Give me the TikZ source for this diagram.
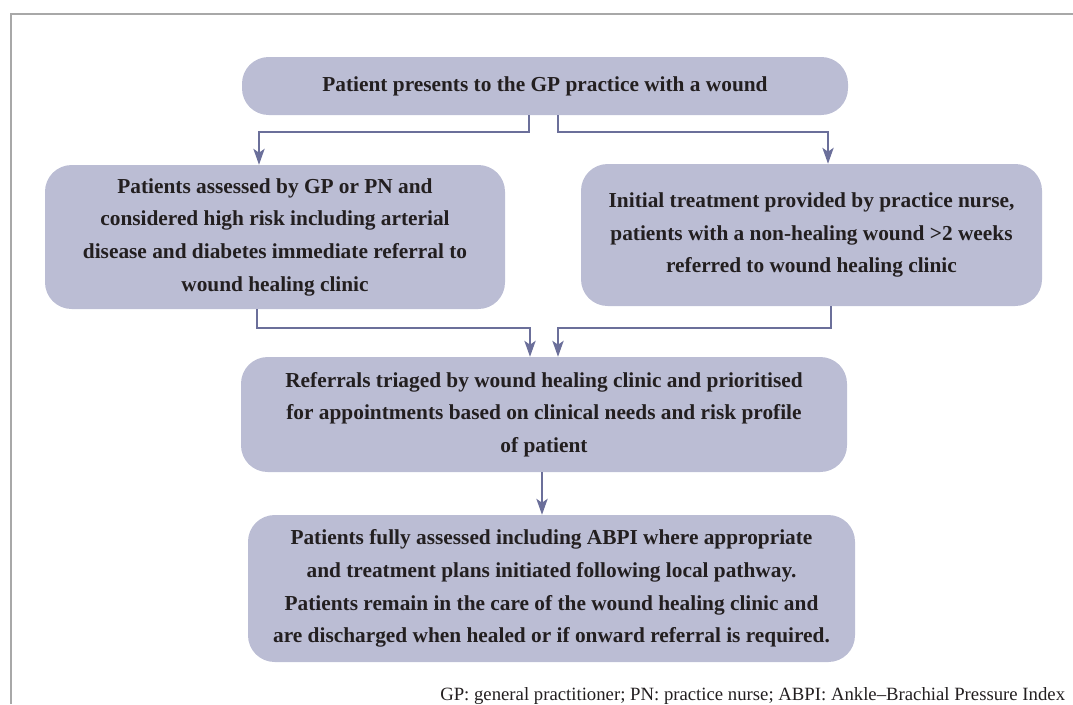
\documentclass[tikz,border=0pt]{standalone}
\usepackage{fontspec}
\setmainfont{Liberation Serif}
\usetikzlibrary{arrows.meta}
\definecolor{boxfill}{HTML}{BBBDD4}
\definecolor{arrowc}{HTML}{6B6F9A}
\definecolor{txt}{HTML}{231F20}
\definecolor{framec}{HTML}{A8A8A8}
\begin{document}
\begin{tikzpicture}[x=0.75pt,y=-0.75pt,
  flowbox/.style={rectangle, rounded corners=20pt, fill=boxfill, draw=none, text=txt,
    align=center, inner sep=0pt, font=\fontsize{16}{24.5}\selectfont\bfseries},
  arr/.style={draw=arrowc, line width=1.1pt, -{Stealth[length=12pt,width=8.5pt,inset=3pt]}},
  framel/.style={draw=framec, line width=1.1pt}]
\useasboundingbox (0,0) rectangle (1073,704);
\draw[framel] (11,704) -- (11,14) -- (1073,14);

\node[flowbox, minimum width=454.5pt, minimum height=43.5pt] (b1) at (545,86)
  {Patient presents to the GP practice with a wound};
\node[flowbox, minimum width=345pt, minimum height=108pt] (b2) at (275,237)
  {Patients assessed by GP or PN and\\considered high risk including arterial\\disease and diabetes immediate referral to\\wound healing clinic};
\node[flowbox, minimum width=345.75pt, minimum height=106.5pt] (b3) at (811.5,235)
  {Initial treatment provided by practice nurse,\\patients with a non-healing wound >2 weeks\\referred to wound healing clinic};
\node[flowbox, minimum width=454.5pt, minimum height=86.25pt] (b4) at (544,414.5)
  {Referrals triaged by wound healing clinic and prioritised\\for appointments based on clinical needs and risk profile\\of patient};
\node[flowbox, minimum width=455.25pt, minimum height=110.25pt] (b5) at (551.5,588.5)
  {Patients fully assessed including ABPI where appropriate\\and treatment plans initiated following local pathway.\\Patients remain in the care of the wound healing clinic and\\are discharged when healed or if onward referral is required.};

\coordinate (s1) at (529,132);
\coordinate (s2) at (558,132);
\coordinate (t2) at (259,132);
\coordinate (t3) at (828,132);
\coordinate (m1) at (257,328);
\coordinate (m2) at (831,328);
\coordinate (u1) at (530,328);
\coordinate (u2) at (558,328);
\coordinate (v) at (542,480);

\draw[arr] (b1.south -| s1) -- (s1) -- (t2) -- (b2.north -| t2);
\draw[arr] (b1.south -| s2) -- (s2) -- (t3) -- (b3.north -| t3);
\draw[arr] (b2.south -| m1) -- (m1) -- (u1) -- (b4.north -| u1);
\draw[arr] (b3.south -| m2) -- (m2) -- (u2) -- (b4.north -| u2);
\draw[arr] (b4.south -| v) -- (b5.north -| v);

\node[anchor=base west, text=txt, font=\fontsize{14.05}{17}\selectfont, inner sep=0pt] (fn) at (440,700)
  {GP: general practitioner; PN: practice nurse; ABPI: Ankle–Brachial Pressure Index};
\end{tikzpicture}
\end{document}
